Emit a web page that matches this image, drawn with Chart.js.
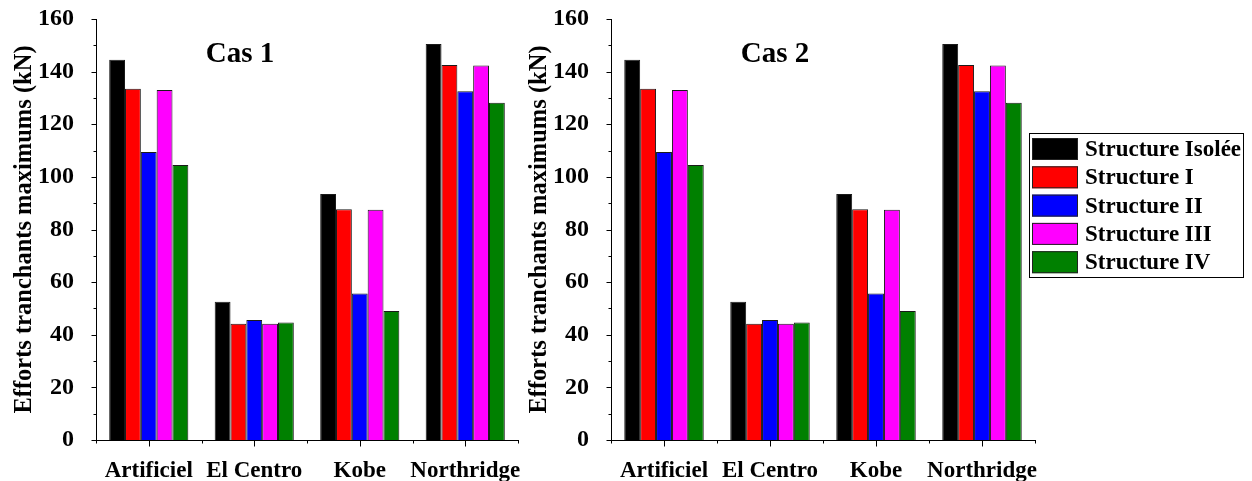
<!DOCTYPE html>
<html>
<head>
<meta charset="utf-8">
<script src="https://cdn.jsdelivr.net/npm/chart.js@4.4.1/dist/chart.umd.min.js"></script>
<style>
  html, body { margin: 0; padding: 0; background: #fff; }
  body { width: 1252px; height: 481px; position: relative; overflow: hidden; }
  canvas { position: absolute; top: 0; }
  #cas1 { left: 0; width: 540px; height: 481px; }
  #cas2 { left: 515px; width: 737px; height: 481px; }
</style>
</head>
<body>
<canvas id="cas1" width="540" height="481"></canvas>
<canvas id="cas2" width="737" height="481"></canvas>
<script>
// Séismes étudiés
const categories = ['Artificiel', 'El Centro', 'Kobe', 'Northridge'];

// Efforts tranchants maximums (kN) par structure
const structureIsolee = [144.5, 52.5, 93.5, 150.5];
const structureI      = [133.5, 44.2, 87.7, 142.5];
const structureII     = [109.5, 45.6, 55.7, 132.5];
const structureIII    = [133.0, 44.2, 87.5, 142.3];
const structureIV     = [104.5, 44.7, 49.0, 128.2];

const seriesNames  = ['Structure Isolée', 'Structure I', 'Structure II', 'Structure III', 'Structure IV'];
const seriesValues = [structureIsolee, structureI, structureII, structureIII, structureIV];
const seriesColors = ['#000000', '#ff0000', '#0000ff', '#ff00ff', '#008000'];

// Axe vertical
const yMin = 0, yMax = 160, yStep = 20, yMinorStep = 10;
const yTitle = 'Efforts tranchants maximums (kN)';

const SERIF = '"Liberation Serif", "Times New Roman", Times, serif';
Chart.defaults.font.family = SERIF;
Chart.defaults.color = '#000';

// Graduations principales et secondaires, tournées vers l'extérieur
const outerTicks = {
  id: 'outerTicks',
  afterDraw(chart) {
    const { ctx, chartArea, scales: { x, y } } = chart;
    const ax = Math.round(chartArea.left) + 0.5;
    const ay = Math.round(chartArea.bottom) + 0.5;
    ctx.save();
    ctx.strokeStyle = '#000';
    ctx.lineWidth = 1;
    ctx.beginPath();
    for (let v = y.min; v <= y.max + 1e-9; v += yMinorStep) {
      const py = Math.round(y.getPixelForValue(v)) + 0.5;
      const len = (v % yStep === 0) ? 5 : 3;
      ctx.moveTo(ax - len, py);
      ctx.lineTo(ax, py);
    }
    const n = chart.data.labels.length;
    for (let i = 0; i < n; i++) {
      const px = Math.round(x.getPixelForValue(i)) + 0.5;
      ctx.moveTo(px, ay);
      ctx.lineTo(px, ay + 6);
    }
    for (let i = 0; i <= n; i++) {
      const px = Math.round(x.getPixelForValue(i - 0.5)) + 0.5;
      ctx.moveTo(px, ay);
      ctx.lineTo(px, ay + 3);
    }
    ctx.stroke();
    ctx.restore();
  }
};

// Titre du cas, placé dans la zone de tracé
const caseTitle = {
  id: 'caseTitle',
  afterDraw(chart, args, opts) {
    const { ctx, chartArea } = chart;
    ctx.save();
    ctx.font = 'bold 29px ' + SERIF;
    ctx.fillStyle = '#000';
    ctx.textAlign = 'center';
    ctx.textBaseline = 'alphabetic';
    ctx.fillText(opts.text, chartArea.left + opts.dx, opts.baseline);
    ctx.restore();
  }
};

// Légende encadrée
const boxLegend = {
  id: 'boxLegend',
  afterDraw(chart, args, opts) {
    if (!opts.display) return;
    const { ctx } = chart;
    ctx.save();
    ctx.fillStyle = '#fff';
    ctx.fillRect(opts.left, opts.top, opts.width, opts.height);
    ctx.strokeStyle = '#000';
    ctx.lineWidth = 1;
    ctx.strokeRect(opts.left + 0.5, opts.top + 0.5, opts.width, opts.height);
    ctx.font = 'bold 23px ' + SERIF;
    ctx.textAlign = 'left';
    ctx.textBaseline = 'middle';
    chart.data.datasets.forEach((ds, i) => {
      const sy = opts.top + opts.firstRow + i * opts.rowPitch;
      ctx.fillStyle = ds.backgroundColor;
      ctx.fillRect(opts.left + 3, sy, opts.swatchW, opts.swatchH);
      ctx.strokeStyle = '#222';
      ctx.strokeRect(opts.left + 3.5, sy + 0.5, opts.swatchW - 1, opts.swatchH - 1);
      ctx.fillStyle = '#000';
      ctx.fillText(ds.label, opts.left + 56, sy + opts.swatchH / 2 + 1);
    });
    ctx.restore();
  }
};

function buildChart(canvasId, titleText, titleDx, padRight, legendOpts) {
  return new Chart(document.getElementById(canvasId), {
    type: 'bar',
    data: {
      labels: categories,
      datasets: seriesNames.map((name, i) => ({
        label: name,
        data: seriesValues[i],
        backgroundColor: seriesColors[i],
        borderColor: '#1a1a1a',
        borderWidth: 1,
        categoryPercentage: 0.75,
        barPercentage: 1.0
      }))
    },
    options: {
      responsive: false,
      animation: false,
      devicePixelRatio: 1,
      layout: { padding: { left: 0, top: 19, right: padRight, bottom: 0 } },
      plugins: {
        legend: { display: false },
        tooltip: { enabled: false },
        caseTitle: { text: titleText, dx: titleDx, baseline: 62 },
        boxLegend: legendOpts
      },
      scales: {
        x: {
          grid: { display: false },
          border: { display: true, color: '#000', width: 1 },
          ticks: {
            font: { size: 23, weight: 'bold' },
            padding: 9,
            autoSkip: false,
            maxRotation: 0,
            minRotation: 0
          },
          afterFit(scale) {
            scale.height = 41;
            scale.paddingLeft = 0;
            scale.paddingRight = 0;
          }
        },
        y: {
          min: yMin,
          max: yMax,
          grid: { display: false },
          border: { display: true, color: '#000', width: 1 },
          ticks: {
            stepSize: yStep,
            font: { size: 24, weight: 'bold' },
            padding: 14
          },
          title: {
            display: true,
            text: yTitle,
            font: { size: 24.5, weight: 'bold' },
            padding: { top: 10, bottom: 0 }
          },
          afterFit(scale) {
            scale.width = 96;
            scale.paddingTop = 0;
            scale.paddingBottom = 0;
          }
        }
      }
    },
    plugins: [outerTicks, caseTitle, boxLegend]
  });
}

buildChart('cas1', 'Cas 1', 144, 22, { display: false });
buildChart('cas2', 'Cas 2', 164, 217, {
  display: true,
  left: 514, top: 133, width: 214, height: 144,
  firstRow: 5, rowPitch: 28.3, swatchW: 46, swatchH: 22
});
</script>
</body>
</html>
